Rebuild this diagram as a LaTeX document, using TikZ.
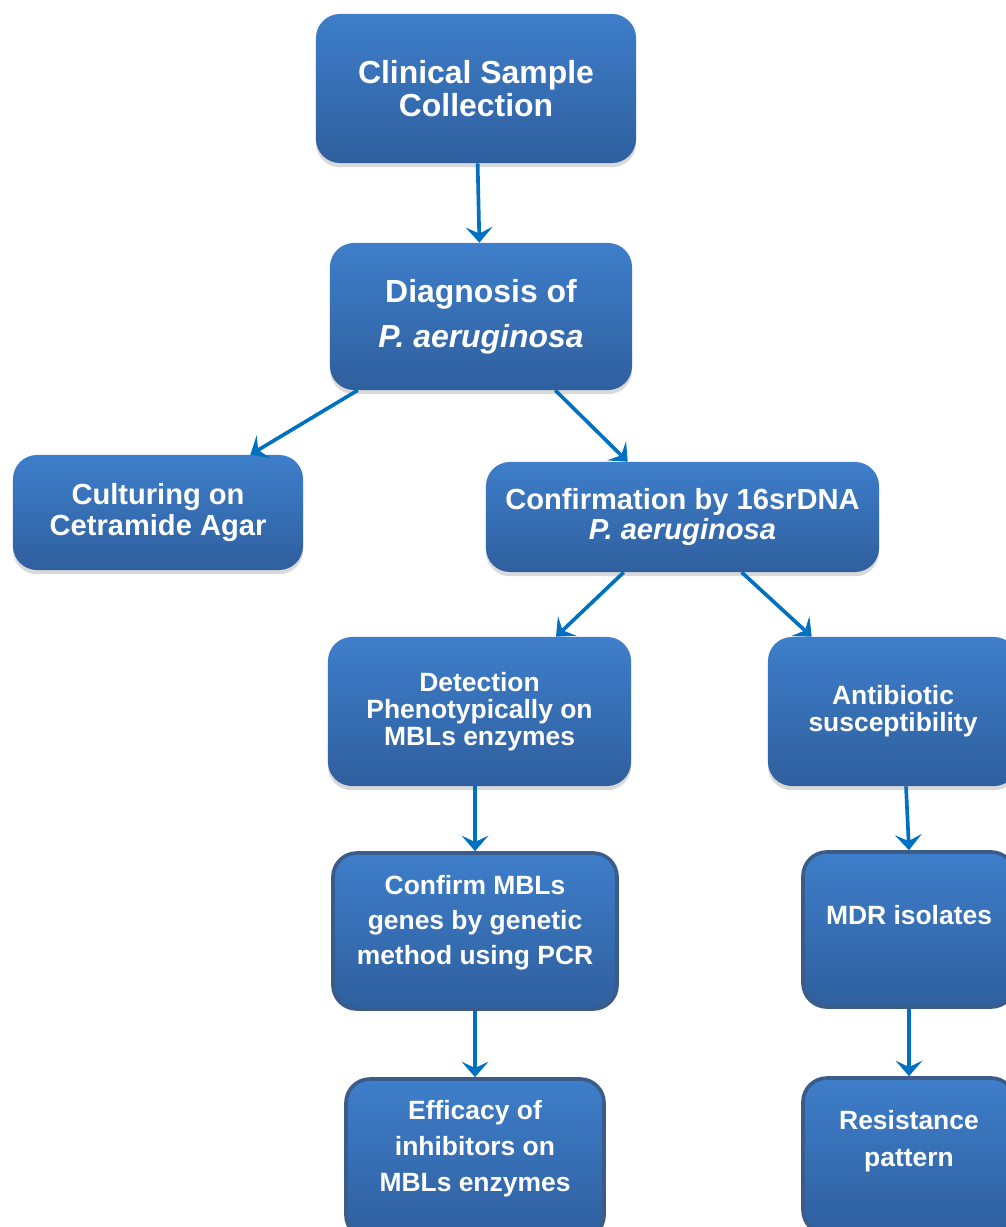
\documentclass[tikz,border=0pt]{standalone}
\usepackage{fontspec}
\setmainfont{Liberation Sans}
\usetikzlibrary{arrows.meta,positioning,calc,shadows}
\definecolor{boxtop}{RGB}{62,126,202}
\definecolor{boxbottom}{RGB}{47,95,158}
\definecolor{boxline}{RGB}{59,92,137}
\definecolor{arrowblue}{RGB}{0,112,192}

\begin{document}
\begin{tikzpicture}[x=0.025cm,y=-0.025cm,
	flowbox/.style={rectangle,rounded corners=0.6cm,top color=boxtop,bottom color=boxbottom,
		text=white,align=center,inner sep=0pt},
	cardbox/.style={flowbox,drop shadow={opacity=0.3,shadow xshift=0pt,shadow yshift=-3pt}},
	cardframe/.style={flowbox,draw=boxline,line width=2.6pt},
	arr/.style={draw=arrowblue,line width=2.6pt,-{Stealth[length=11pt,width=19pt,inset=4.5pt]}}]
				\useasboundingbox (0,0) rectangle (1005,1227);
				% top of the chart
				\node[cardbox,minimum width=8cm,minimum height=3.725cm,font=\bfseries\fontsize{22.7}{23}\selectfont] (clin) at (476,88.5) {Clinical Sample\\Collection};
				\node[cardbox,minimum width=7.55cm,minimum height=3.675cm,font=\bfseries\fontsize{22.7}{32}\selectfont] (diag) at (481,316.5) {Diagnosis of\\\textit{P. aeruginosa}};
				\node[cardbox,minimum width=7.25cm,minimum height=2.875cm,font=\bfseries\fontsize{20.7}{22}\selectfont] (cult) at (158,512.5) {Culturing on\\Cetramide Agar};
				\node[cardbox,minimum width=9.825cm,minimum height=2.75cm,font=\bfseries\fontsize{20.7}{21.3}\selectfont] (conf) at (682.5,517) {Confirmation by 16srDNA\\\textit{P. aeruginosa}};
				% two branches
				\node[cardbox,minimum width=7.575cm,minimum height=3.725cm,font=\bfseries\fontsize{18.8}{19}\selectfont] (det) at (479.5,711.5) {Detection\\Phenotypically on\\MBLs enzymes};
				\node[cardbox,minimum width=6.25cm,minimum height=3.725cm,font=\bfseries\fontsize{18.8}{19.2}\selectfont] (anti) at (893,711.5) {Antibiotic\\susceptibility};
				\node[cardframe,minimum width=7.1cm,minimum height=3.9cm,font=\bfseries\fontsize{18.8}{24.9}\selectfont] (pcr) at (475,931) {Confirm MBLs\\genes by genetic\\method using PCR\\[-9.7pt]\mbox{}};
				\node[cardframe,minimum width=5.3cm,minimum height=3.875cm,font=\bfseries\fontsize{18.8}{20}\selectfont] (mdr) at (909,929.5) {MDR isolates\\[0.6pt]\mbox{}};
				\node[cardframe,minimum width=6.45cm,minimum height=4cm,font=\bfseries\fontsize{18.8}{25.6}\selectfont] (eff) at (475,1159) {Efficacy of\\inhibitors on\\MBLs enzymes\\[-7.5pt]\mbox{}};
				\node[cardframe,minimum width=5.3cm,minimum height=3.9cm,font=\bfseries\fontsize{18.8}{26.3}\selectfont] (res) at (909,1156) {Resistance\\pattern\\[-1.8pt]\mbox{}};
				% arrows
				\draw[arr] (clin) -- (diag);
				\draw[arr] ($(diag.south west)+(28,0)$) -- ($(cult.north east)+(-53,0)$);
				\draw[arr] ($(diag.south east)+(-77,0)$) -- ($(conf.north west)+(142,0)$);
				\draw[arr] ($(conf.south west)+(138,0)$) -- ($(det.north)+(76.5,0)$);
				\draw[arr] ($(conf.south west)+(256,0)$) -- ($(anti.north west)+(44,0)$);
				\draw[arr] (det.south -| pcr) -- (pcr.north);
				\draw[arr] ($(anti.south)+(13,0)$) -- (mdr.north);
				\draw[arr] (pcr) -- (eff);
				\draw[arr] (mdr) -- (res);
\end{tikzpicture}
\end{document}
